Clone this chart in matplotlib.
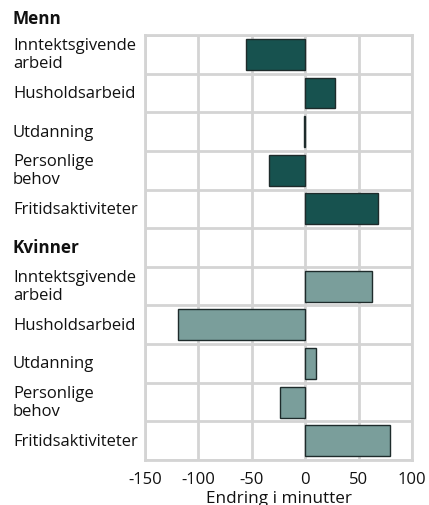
import matplotlib
matplotlib.use("Agg")
import matplotlib.pyplot as plt
from matplotlib.transforms import blended_transform_factory

plt.rcParams['font.family'] = ['Open Sans', 'DejaVu Sans']

groups = ["Menn", "Kvinner"]
categories = ["Inntektsgivende\narbeid", "Husholdsarbeid", "Utdanning",
              "Personlige\nbehov", "Fritidsaktiviteter"]
menn = [-55, 28, -1, -34, 68]
kvinner = [63, -119, 10, -24, 79]
xticks = [-150, -100, -50, 0, 50, 100]
xlabel = "Endring i minutter"

col_menn = "#17524f"
col_kvinner = "#7a9e9b"
edge = "#1e2b2b"
grid_col = "#d4d4d4"
text_col = "#111111"

fig = plt.figure(figsize=(4.29, 5.06), dpi=100)
ax = fig.add_axes([145/429, 1-461/506, (412-145)/429, (461-36)/506])

n = len(categories)
y_menn = list(range(n))
y_kv = [n + 1 + i for i in range(n)]

ax.barh(y_menn, menn, height=0.8, color=col_menn, edgecolor=edge, linewidth=1, zorder=3)
ax.barh(y_kv, kvinner, height=0.8, color=col_kvinner, edgecolor=edge, linewidth=1, zorder=3)

ax.set_xlim(-150, 100)
ax.set_ylim(2 * n + 0.5, -0.5)
ax.set_xticks(xticks)
ax.set_xticklabels([str(v) for v in xticks], fontsize=12, color=text_col)
ax.set_yticks([])
ax.set_yticks([i + 0.5 for i in range(-1, 2 * n + 1)], minor=True)
ax.tick_params(axis='both', which='both', length=0)
ax.tick_params(axis='x', pad=8)
ax.grid(axis='x', which='major', color=grid_col, linewidth=2, zorder=0)
ax.grid(axis='y', which='minor', color=grid_col, linewidth=2, zorder=0)
for s in ax.spines.values():
    s.set_color(grid_col)
    s.set_linewidth(2)
ax.set_xlabel(xlabel, fontsize=12.3, color=text_col, labelpad=2)

tr = blended_transform_factory(fig.transFigure, ax.transData)
lx = 13 / 429
for yy, lab in zip(y_menn, categories):
    ax.text(lx, yy, lab, transform=tr, ha='left', va='center', fontsize=12,
            color=text_col, linespacing=1.15)
for yy, lab in zip(y_kv, categories):
    ax.text(lx, yy, lab, transform=tr, ha='left', va='center', fontsize=12,
            color=text_col, linespacing=1.15)
ax.text(lx, -0.95, groups[0], transform=tr, ha='left', va='center', fontsize=12.3,
        fontweight='bold', color=text_col)
ax.text(lx, n, groups[1], transform=tr, ha='left', va='center', fontsize=12.3,
        fontweight='bold', color=text_col)

fig.savefig("out.png", dpi=100)
